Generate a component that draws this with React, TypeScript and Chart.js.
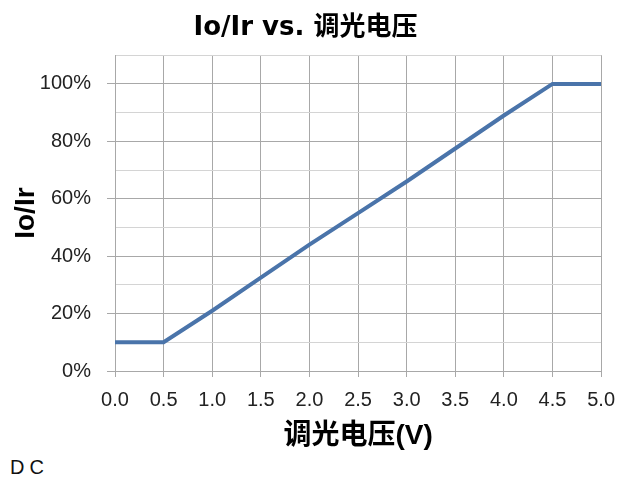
import React, { useEffect, useRef } from "react";
import { Chart, registerables } from "chart.js";

Chart.register(...registerables);

const voltages = [0, 0.5, 1.0, 1.5, 2.0, 2.5, 3.0, 3.5, 4.0, 4.5, 5.0];
const ratio = [10, 10, 21, 32.5, 44, 55, 66, 77.5, 89, 100, 100];
const chartTitle = "Io/Ir vs. 调光电压";
const xTitle = "调光电压(V)";
const yTitle = "Io/Ir";
const note = "DC";

const FONT = "'Liberation Sans', Arial, 'Noto Sans CJK SC', sans-serif";
const TITLE_FONT = "'DejaVu Sans', 'Noto Sans CJK SC', sans-serif";

export default function App() {
  const ref = useRef<HTMLCanvasElement | null>(null);
  useEffect(() => {
    document.body.style.margin = "0";
    const ctx = ref.current!;
    const chart = new Chart(ctx, {
      type: "line",
      data: {
        datasets: [
          {
            data: voltages.map((v, i) => ({ x: v, y: ratio[i] })),
            borderColor: "#4a74aa",
            borderWidth: 4,
            pointRadius: 0,
            tension: 0,
            fill: false,
          },
        ],
      },
      options: {
        responsive: false,
        animation: false,
        layout: { padding: { left: 9, right: 24, top: 0, bottom: 3 } },
        plugins: {
          legend: { display: false },
          tooltip: { enabled: false },
          title: {
            display: true,
            text: chartTitle,
            color: "#000",
            font: { family: TITLE_FONT, size: 26, weight: "bold" },
            padding: { top: 13, bottom: 11 },
          },
        },
        scales: {
          x: {
            type: "linear",
            min: 0,
            max: 5,
            afterFit: (s: any) => {
              s.height = 82;
            },
            ticks: {
              stepSize: 0.5,
              color: "#222",
              font: { family: FONT, size: 20 },
              padding: 11,
              maxRotation: 0,
              callback: (v: any) => Number(v).toFixed(1),
            },
            grid: {
              color: "#a8a8a8",
              tickLength: 6,
              tickColor: "#a8a8a8",
            },
            border: { color: "#a8a8a8" },
            title: {
              display: true,
              text: xTitle,
              color: "#000",
              font: { family: FONT, size: 28, weight: "bold" },
              padding: { top: 0, bottom: 0 },
            },
          },
          y: {
            min: 0,
            max: 110,
            afterFit: (s: any) => {
              s.width = 106;
            },
            ticks: {
              stepSize: 10,
              color: "#222",
              font: { family: FONT, size: 20 },
              padding: 16,
              callback: (v: any) =>
                Number(v) % 20 === 0 && Number(v) <= 100 ? v + "%" : "",
            },
            grid: {
              color: (c: any) =>
                c.tick && c.tick.value % 20 === 0 ? "#a8a8a8" : "#d4d4d4",
              tickLength: 8,
              tickColor: (c: any) =>
                c.tick && c.tick.value % 20 === 0 && c.tick.value <= 100
                  ? "#a8a8a8"
                  : "rgba(0,0,0,0)",
            },
            border: { color: "#a8a8a8" },
            title: {
              display: true,
              text: yTitle,
              color: "#000",
              font: { family: FONT, size: 28, weight: "bold" },
              padding: { top: 0, bottom: 0 },
            },
          },
        },
      },
    });
    return () => chart.destroy();
  }, []);
  return (
    <div>
      <canvas ref={ref} width={626} height={456} style={{ display: "block" }} />
      <div
        style={{
          fontFamily: FONT,
          fontSize: 20,
          letterSpacing: 5,
          marginLeft: 10,
          color: "#111",
          lineHeight: "22px",
        }}
      >
        {note}
      </div>
    </div>
  );
}
